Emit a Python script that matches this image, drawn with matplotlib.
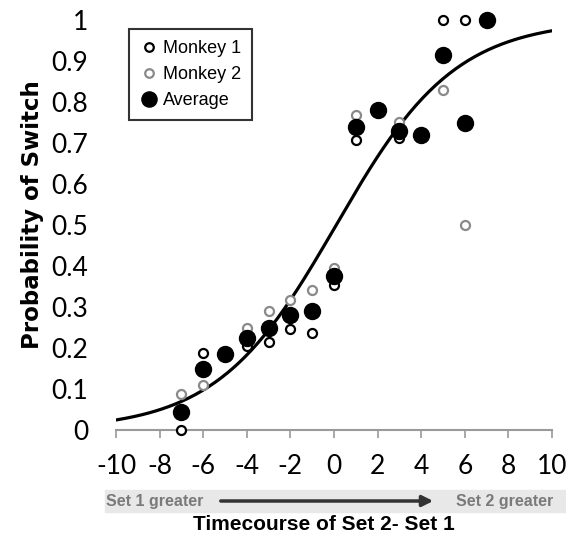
import matplotlib.pyplot as plt
import numpy as np
from matplotlib.patches import Rectangle, FancyArrowPatch

plt.rcParams['axes.unicode_minus'] = False

# time difference (Set 2 - Set 1)
x_vals = [-7, -6, -5, -4, -3, -2, -1, 0, 1, 2, 3, 4, 5, 6, 7]
average = [0.045, 0.15, 0.185, 0.225, 0.25, 0.28, 0.29, 0.375, 0.74, 0.78, 0.73, 0.72, 0.915, 0.75, 1.0]

# individual monkeys (only where visible)
m1_x = [-7, -6, -4, -3, -2, -1, 0, 1, 3, 5, 6]
monkey1 = [0.0, 0.188, 0.205, 0.215, 0.246, 0.237, 0.354, 0.707, 0.712, 1.0, 1.0]
m2_x = [-7, -6, -4, -3, -2, -1, 0, 1, 3, 5, 6]
monkey2 = [0.088, 0.11, 0.249, 0.29, 0.317, 0.341, 0.395, 0.768, 0.751, 0.83, 0.5]

# logistic fit parameters
fit_slope = 0.365
fit_mid = 0.1

x_ticks = [-10, -8, -6, -4, -2, 0, 2, 4, 6, 8, 10]
y_ticks = [0, 0.1, 0.2, 0.3, 0.4, 0.5, 0.6, 0.7, 0.8, 0.9, 1]
y_labels = ['0', '0.1', '0.2', '0.3', '0.4', '0.5', '0.6', '0.7', '0.8', '0.9', '1']

fig = plt.figure(figsize=(5.66, 5.39), dpi=100)
ax = fig.add_axes([116 / 566, 109 / 539, 436 / 566, 410 / 539])

xs = np.linspace(-10, 10, 200)
ax.plot(xs, 1 / (1 + np.exp(-fit_slope * (xs - fit_mid))), color='black', lw=2.3, zorder=2)

ax.plot(m1_x, monkey1, 'o', ms=6.5, mfc='white', mec='black', mew=1.6, ls='none',
        label='Monkey 1', clip_on=False, zorder=3)
ax.plot(m2_x, monkey2, 'o', ms=6.5, mfc='white', mec='#8a8a8a', mew=1.6, ls='none',
        label='Monkey 2', clip_on=False, zorder=3)
ax.plot(x_vals, average, 'o', ms=11.5, color='black', ls='none',
        label='Average', clip_on=False, zorder=4)

ax.set_xlim(-10, 10)
ax.set_ylim(0, 1)
ax.set_xticks(x_ticks)
ax.set_yticks(y_ticks)
ax.set_yticklabels(y_labels)
for side in ['top', 'right', 'left']:
    ax.spines[side].set_visible(False)
ax.spines['bottom'].set_color('#9a9a9a')
ax.spines['bottom'].set_linewidth(1.5)
ax.tick_params(axis='x', direction='out', length=6, width=1.2, color='#9a9a9a', pad=11)
ax.tick_params(axis='y', length=0, pad=20)
for lab in ax.get_xticklabels() + ax.get_yticklabels():
    lab.set_fontfamily('Lato')
    lab.set_fontsize(19)

leg = ax.legend(loc='upper left', bbox_to_anchor=(0.03, 0.978), frameon=True, fancybox=False,
                prop={'family': 'Liberation Sans', 'size': 13}, handletextpad=0.3,
                borderpad=0.6, labelspacing=0.5, handlelength=1.0, borderaxespad=0,
                markerscale=0.95)
leg.get_frame().set_edgecolor('black')
leg.get_frame().set_linewidth(1.5)

# direction band under the x axis
fig.patches.append(Rectangle((105 / 566, 27 / 539), 461 / 566, 22 / 539,
                             transform=fig.transFigure, color='#e8e8e8', zorder=0))
fig.text(106 / 566, 0.0705, 'Set 1 greater', color='#7a7a7a', fontsize=11.5,
         fontweight='bold', family='Liberation Sans', va='center', ha='left')
fig.text(456 / 566, 0.0705, 'Set 2 greater', color='#7a7a7a', fontsize=11.5,
         fontweight='bold', family='Liberation Sans', va='center', ha='left')
fig.patches.append(FancyArrowPatch(
    (218 / 566, 0.0705), (436 / 566, 0.0705), transform=fig.transFigure,
    arrowstyle='-|>', mutation_scale=16, lw=2.5, color='#333333'))

fig.text(324 / 566, 0.026, 'Timecourse of Set 2- Set 1', fontsize=15, fontweight='bold',
         family='Liberation Sans', ha='center', va='center')
fig.text(33 / 566, (539 - 215) / 539, 'Probability of Switch', fontsize=16.5, fontweight='bold',
         family='DejaVu Sans', ha='center', va='center', rotation=90)

fig.savefig('out.png', dpi=100)
